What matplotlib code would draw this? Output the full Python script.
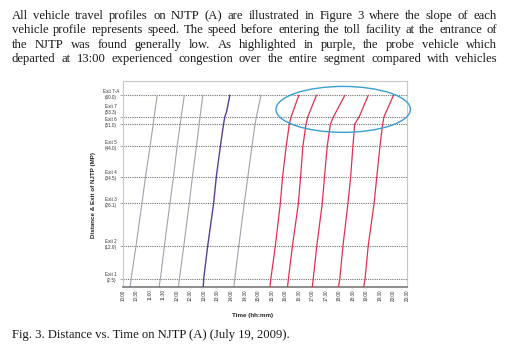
import matplotlib
matplotlib.use("Agg")
import matplotlib.pyplot as plt
from matplotlib.patches import Ellipse

# text of the page around the figure
para_lines = [
    "All vehicle travel profiles on NJTP (A) are illustrated in Figure 3 where the slope of each",
    "vehicle profile represents speed. The speed before entering the toll facility at the entrance of",
    "the NJTP was found generally low. As highlighted in purple, the probe vehicle which",
    "departed at 13:00 experienced congestion over the entire segment compared with vehicles",
]
caption = "Fig. 3. Distance vs. Time on NJTP (A) (July 19, 2009)."

# exits of the NJTP (mile posts)
exit_names = ["Exit 1", "Exit 2", "Exit 3", "Exit 4", "Exit 5", "Exit 6", "Exit 7", "Exit 7-A"]
exit_mp = [2.5, 12.9, 26.1, 34.5, 44.0, 51.0, 53.3, 60.0]

time_labels = ["10:00", "10:30", "11:00", "11:30", "12:00", "12:30", "13:00", "13:30",
               "14:00", "14:30", "15:00", "15:30", "16:00", "16:30", "17:00", "17:30",
               "18:00", "18:30", "19:00", "19:30", "20:00", "20:30"]

# vehicle profiles: clock time when passing each mile post
profile_mp = [0, 2.5, 12.9, 26.1, 34.5, 44.0, 51.0, 53.3, 60.0]
gray_runs = [
    ["10:16", "10:18", "10:29", "10:42", "10:50", "11:00", "11:07", "11:09", "11:16"],
    ["11:20", "11:23", "11:32", "11:44", "11:52", "12:00", "12:07", "12:09", "12:16"],
    ["12:03", "12:05", "12:15", "12:27", "12:34", "12:43", "12:49", "12:51", "12:57"],
    ["14:06", "14:08", "14:17", "14:29", "14:37", "14:46", "14:53", "14:56", "15:06"],
]
probe_mp = [0, 2.5, 12.9, 26.1, 34.5, 44.0, 51.0, 53.3, 55.0, 60.0]
probe_run = ["12:58", "12:59", "13:08", "13:21", "13:27", "13:36", "13:43", "13:46", "13:50", "13:57"]
red_runs = [
    ["15:26", "15:28", "15:38", "15:49", "15:54", "16:02", "16:09", "16:13", "16:30"],
    ["16:05", "16:07", "16:16", "16:29", "16:34", "16:39", "16:46", "16:50", "17:09"],
    ["17:00", "17:02", "17:10", "17:22", "17:27", "17:33", "17:40", "17:47", "18:12"],
    ["17:58", "18:01", "18:08", "18:19", "18:25", "18:30", "18:34", "18:44", "19:04"],
    ["18:54", "18:57", "19:04", "19:17", "19:23", "19:30", "19:36", "19:39", "20:00"],
]


def hours(s):
    h, m = s.split(":")
    return int(h) + int(m) / 60.0


W, H = 510, 352
serif = "Liberation Serif"
sans = "Liberation Sans"

fig = plt.figure(figsize=(W / 100, H / 100), dpi=100)
fig.patch.set_facecolor("white")
renderer = fig.canvas.get_renderer()


def justify(line, ybase, x0, x1, size):
    words = line.split()
    texts = [fig.text(0, 1 - ybase / H, w, fontsize=size, family=serif,
                      va="baseline", color="#1a1a1a") for w in words]
    widths = [t.get_window_extent(renderer).width for t in texts]
    gap = (x1 - x0 - sum(widths)) / (len(words) - 1)
    x = x0
    for t, w in zip(texts, widths):
        t.set_x(x / W)
        x += w + gap


for i, line in enumerate(para_lines):
    justify(line, 19 + i * 14.3, 12, 497, 9.1)

fig.text(12 / W, 1 - 338 / H, caption, fontsize=9.1, family=serif,
         va="baseline", color="#1a1a1a")

# chart
ax = fig.add_axes([123 / W, 1 - 286.7 / H, (407 - 123) / W, (286.7 - 81) / H])
ax.set_xlim(10, 20.5)
ax.set_ylim(0, 64.5)

for mp in exit_mp:
    ax.axhline(mp, color="#707070", ls=(0, (1, 1)), lw=0.8, zorder=1)

for run in gray_runs:
    ax.plot([hours(t) for t in run], profile_mp, color="#a4a0ae", lw=0.8, zorder=2)
ax.plot([hours(t) for t in probe_run], probe_mp, color="#5a3e98", lw=1.0, zorder=3)
for run in red_runs:
    ax.plot([hours(t) for t in run], profile_mp, color="#e23050", lw=0.9, zorder=3)

ell = Ellipse((18.14, 55.6), 4.97, 14.4, fill=False, ec="#3a9fd0", lw=1.0,
              clip_on=False, zorder=4)
ax.add_patch(ell)

for side in ["top", "right", "left"]:
    ax.spines[side].set_color("#c8c8c8")
    ax.spines[side].set_linewidth(0.8)
ax.spines["bottom"].set_color("#7a7a7a")
ax.spines["bottom"].set_linewidth(1.2)

ax.set_xticks([10 + 0.5 * i for i in range(len(time_labels))])
ax.set_xticklabels(time_labels, rotation=90, fontsize=3.3, family=sans, color="#333333")
ax.tick_params(axis="x", length=0, pad=2)

ax.set_yticks(exit_mp)
ax.set_yticklabels([])
ax.tick_params(axis="y", length=2, width=0.5, color="#888888")

# Exit 6 and Exit 7 sit close together, so their labels are lifted apart
nudge = {"Exit 7": 5.2, "Exit 6": 1.2}
for name, mp in zip(exit_names, exit_mp):
    ax.annotate(f"{name}\n({mp:.1f})", xy=(0, mp), xycoords=ax.get_yaxis_transform(),
                xytext=(-8.5, nudge.get(name, 0.6)), textcoords="offset points",
                ha="center", va="center", fontsize=3.3, family=sans,
                color="#333333", linespacing=1.3, annotation_clip=False)

fig.text(253 / W, 1 - 315 / H, "Time (hh:mm)", fontsize=4.5, family=sans,
         weight="bold", ha="center", va="center", color="#222222")
fig.text(94 / W, 1 - 195 / H, "Distance & Exit of NJTP (MP)", fontsize=4.5, family=sans,
         weight="bold", rotation=90, ha="center", va="center", color="#222222")

fig.savefig("out.png", dpi=100, facecolor="white")
